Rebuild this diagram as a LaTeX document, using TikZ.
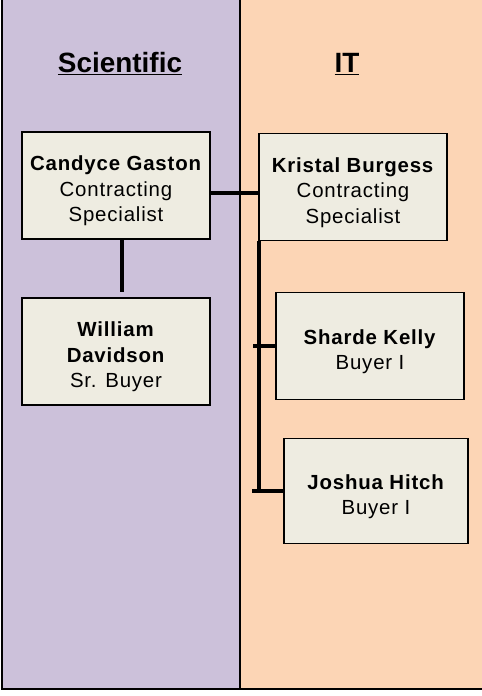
\documentclass[tikz,border=0pt]{standalone}
\usepackage{fontspec}
\setmainfont{Liberation Sans}
\definecolor{scilila}{HTML}{CCC1DA}
\definecolor{itpeach}{HTML}{FCD5B5}
\definecolor{cardtan}{HTML}{EEECE1}
\newcommand{\toprow}[1]{\rule{0pt}{26bp}\textbf{#1}}
\begin{document}
\begin{tikzpicture}[x=1bp, y=-1bp, line join=miter,
    person/.style={draw, line width=1.8bp, fill=cardtan, align=center, inner sep=0pt,
      minimum width=188bp, minimum height=107bp,
      font=\fontsize{20.5}{25.5}\selectfont\addfontfeatures{LetterSpace=4}},
    link/.style={line width=4bp},
    lanehead/.style={font=\fontsize{28}{30}\selectfont\bfseries}]
    \useasboundingbox (0,0) rectangle (482,696);
    % swim lanes
    \fill[scilila] (2,0) rectangle (240,689);
    \fill[itpeach] (240,0) rectangle (482,689);
    \draw[line width=1.5bp] (240,0)--(240,689);
    \draw[line width=2bp] (2,0)--(2,689)--(482,689);
    \node[lanehead] (sci) at (120,64) {\underline{Scientific}};
    \node[lanehead] (it) at (347,64) {\underline{IT}};
    % people
    \node[person] (cg) at (116,185.5) {\toprow{Candyce Gaston}\\Contracting\\Specialist};
    \node[person] (kb) at (353,187) {\toprow{Kristal Burgess}\\Contracting\\Specialist};
    \node[person] (wd) at (116,351.5) {\toprow{William}\\\textbf{Davidson}\\Sr. Buyer};
    \node[person] (sk) at (370,346) {\toprow{Sharde Kelly}\\Buyer I};
    \node[person, minimum width=184bp, minimum height=105bp] (jh) at (376,491) {\toprow{Joshua Hitch}\\Buyer I};
    \coordinate (trunk) at (259,491);
    % lines
    \draw[link] (cg.east |- 0,193)--(kb.west |- 0,193);
    \draw[link, shorten >=5bp] (cg.south -| 122,0)--(wd.north -| 122,0);
    \draw[link] (kb.south -| trunk)--(trunk);
    \draw[link] (sk.west)--(sk.west -| 253,0);
    \draw[link] (jh.west)--(jh.west -| 252,0);
\end{tikzpicture}
\end{document}
